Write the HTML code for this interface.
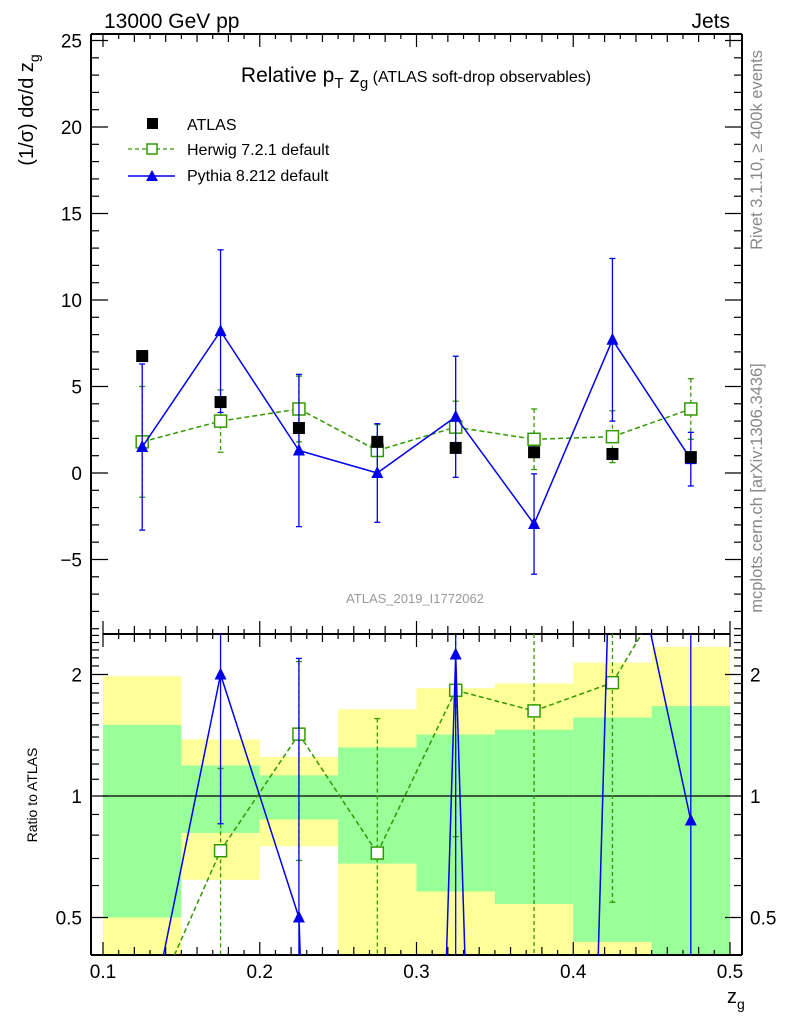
<!DOCTYPE html>
<html><head><meta charset="utf-8"><style>
html,body{margin:0;padding:0;background:#fff;overflow:hidden;width:786px;height:1024px}
svg{font-family:"Liberation Sans",sans-serif;display:block}
</style></head><body>
<svg id="c" width="786" height="1024" xmlns="http://www.w3.org/2000/svg">
<g id="bands"></g>
<g id="axes"></g>
<g id="series"></g>
<text x="104" y="28" font-size="21">13000 GeV pp</text>
<text x="730" y="28" font-size="21" text-anchor="end">Jets</text>
<text x="416" y="82" font-size="21" text-anchor="middle">Relative p<tspan font-size="15" dy="6">T</tspan><tspan dy="-6"> z</tspan><tspan font-size="15" dy="6">g</tspan><tspan dy="-6" font-size="16"> (ATLAS soft-drop observables)</tspan></text>
<g>
<rect x="147" y="118" width="11" height="11" fill="#000"/>
<text x="187" y="130" font-size="16">ATLAS</text>
<line x1="128" y1="149" x2="175" y2="149" stroke="#339900" stroke-dasharray="4,3" stroke-width="1.2"/>
<rect x="147" y="144" width="10" height="10" fill="#fff" stroke="#339900" stroke-width="1.5"/>
<text x="187" y="155" font-size="16">Herwig 7.2.1 default</text>
<line x1="128" y1="176" x2="175" y2="176" stroke="#0000ee" stroke-width="1.5"/>
<polygon points="146,181 158,181 152,170" fill="#0000ee"/>
<text x="187" y="181" font-size="16">Pythia 8.212 default</text>
</g>
<text transform="translate(33,110) rotate(-90)" font-size="20" text-anchor="middle">(1/σ) dσ/d z<tspan font-size="14" dy="6">g</tspan></text>
<text transform="translate(37,795) rotate(-90)" font-size="14" text-anchor="middle">Ratio to ATLAS</text>
<text x="727" y="1003" font-size="20">z<tspan font-size="14" dy="6">g</tspan></text>
<text x="415" y="603" font-size="13" fill="#999" text-anchor="middle">ATLAS_2019_I1772062</text>
<text transform="translate(762,150) rotate(-90)" font-size="16.5" fill="#888" text-anchor="middle">Rivet 3.1.10, ≥ 400k events</text>
<text transform="translate(762,488) rotate(-90)" font-size="16.5" fill="#888" text-anchor="middle">mcplots.cern.ch [arXiv:1306.3436]</text>
</svg>
<script>
const binEdges=[0.1,0.15,0.2,0.25,0.3,0.35,0.4,0.45,0.5];
const xCenters=[0.125,0.175,0.225,0.275,0.325,0.375,0.425,0.475];
const atlasVals=[6.76,4.1,2.6,1.8,1.45,1.2,1.1,0.92];
const atlasStatRel=[0.50,0.19,0.125,0.32,0.42,0.46,0.565,0.67];
const atlasTotRel=[0.98,0.38,0.25,0.64,0.85,0.90,1.14,1.34];
const herwigVals=[1.8,3.0,3.7,1.3,2.65,1.95,2.1,3.7];
const herwigErr=[3.2,1.8,1.9,1.5,1.5,1.75,1.5,1.75];
const pythiaVals=[1.5,8.2,1.3,0.0,3.25,-2.95,7.7,0.8];
const pythiaErr=[4.8,4.7,4.4,2.85,3.5,2.9,4.7,1.55];
const mainYTicks=[-5,0,5,10,15,20,25];
const ratioYTicks=[0.5,1,2];
const xTicks=[0.1,0.2,0.3,0.4,0.5];

const NS="http://www.w3.org/2000/svg";
function mk(p,t,a){const e=document.createElementNS(NS,t);for(const k in a)e.setAttribute(k,a[k]);p.appendChild(e);return e;}
const X=v=>103+(v-0.1)*1567.5;
const Y=v=>473-v*17.3;
const RT=634,RB=955,MT=34;
const R=v=>796-Math.log2(Math.max(v,1e-6))*121.5;
const axes=document.getElementById('axes'),bands=document.getElementById('bands'),ser=document.getElementById('series');

for(let i=0;i<8;i++){
  const x0=X(binEdges[i]),x1=X(binEdges[i+1]);
  const band=(rel,col,nm)=>{let t=Math.max(R(1+rel),RT),b=(1-rel)>0?Math.min(R(1-rel),RB):RB;
    const r=mk(bands,'rect',{x:x0,y:t,width:x1-x0,height:b-t,fill:col});
    
    };
  band(atlasTotRel[i],'#ffff99','total-band-'+i);
  band(atlasStatRel[i],'#99ff99','stat-band-'+i);
}
mk(axes,'line',{x1:103,x2:730,y1:R(1),y2:R(1),stroke:'#000','stroke-width':1.2});

const st={stroke:'#000','stroke-width':2,fill:'none'};
mk(axes,'line',Object.assign({x1:91,x2:742,y1:34,y2:34},st));
mk(axes,'line',Object.assign({x1:91,x2:91,y1:34,y2:RB},st));
mk(axes,'line',Object.assign({x1:742,x2:742,y1:34,y2:RB},st));
mk(axes,'line',Object.assign({x1:103,x2:730,y1:RT,y2:RT},st));
mk(axes,'line',Object.assign({x1:91,x2:742,y1:RB,y2:RB},st));
for(let k=0;k<=40;k++){const v=0.1+k*0.01,x=X(v);const L=k%10==0?13:(k%2==0?8:5);
  [[34,1],[RT,-1],[RT,1],[RB,-1]].forEach(([y,d])=>mk(axes,'line',{x1:x,x2:x,y1:y,y2:y+d*L,stroke:'#000','stroke-width':1.2}));}
xTicks.forEach(v=>{const t=mk(axes,'text',{x:X(v),y:978,'font-size':19,'text-anchor':'middle'});t.textContent=v.toFixed(1);
  
  });
for(let v=-9;v<=25;v++){const y=Y(v);if(y<34||y>RT)continue;const L=v%5==0?17:8;
  mk(axes,'line',{x1:91,x2:91+L,y1:y,y2:y,stroke:'#000','stroke-width':1.2});
  mk(axes,'line',{x1:742,x2:742-L,y1:y,y2:y,stroke:'#000','stroke-width':1.2});}
mainYTicks.forEach(v=>{const t=mk(axes,'text',{x:82,y:Y(v)+7,'font-size':19,'text-anchor':'end'});t.textContent=v<0?'−'+(-v):v;
  
  });
for(let k=4;k<=25;k++){const v=k/10,y=R(v);if(y<RT||y>RB)continue;const L=(v==0.5||v==1||v==2)?17:8;
  mk(axes,'line',{x1:91,x2:91+L,y1:y,y2:y,stroke:'#000','stroke-width':1.2});
  mk(axes,'line',{x1:742,x2:742-L,y1:y,y2:y,stroke:'#000','stroke-width':1.2});}
ratioYTicks.forEach(v=>{[[82,'end'],[750,'start']].forEach(([x,a])=>{const t=mk(axes,'text',{x:x,y:R(v)+7,'font-size':19,'text-anchor':a});t.textContent=v;
  
  });});

// clip a segment to y range [t,b]
function clipSeg(p,q,t,b){
  let [x1,y1]=p,[x2,y2]=q;
  if((y1<t&&y2<t)||(y1>b&&y2>b))return null;
  const at=y=>x1+(x2-x1)*(y-y1)/(y2-y1);
  let a=[x1,y1],c=[x2,y2];
  if(y1<t)a=[at(t),t]; if(y1>b)a=[at(b),b];
  if(y2<t)c=[at(t),t]; if(y2>b)c=[at(b),b];
  return [a,c];
}
const clampY=(y,t,b)=>Math.min(Math.max(y,t),b);

function series(g,yf,vals,errs,col,dash,marker,name,lo0,hi0,t,b){
  const pts=xCenters.map((x,i)=>[X(x),yf(vals[i])]);
  let d='';
  for(let i=0;i<pts.length-1;i++){const s=clipSeg(pts[i],pts[i+1],t,b);if(s)d+=`M${s[0][0].toFixed(2)},${s[0][1].toFixed(2)}L${s[1][0].toFixed(2)},${s[1][1].toFixed(2)}`;}
  const l=mk(g,'path',{d:d,fill:'none',stroke:col,'stroke-width':1.5,'stroke-linejoin':'round'});
  if(dash)l.setAttribute('stroke-dasharray','5,3');
  
  
  xCenters.forEach((x,i)=>{if(vals[i]<=lo0||vals[i]>=hi0)return;
    const px=X(x);const hiR=yf(vals[i]+errs[i]),loR=yf(vals[i]-errs[i]);
    const hi=clampY(hiR,t,b),lo=clampY(loR,t,b);
    const e=mk(g,'line',{x1:px,x2:px,y1:hi,y2:lo,stroke:col,'stroke-width':1.3});if(dash)e.setAttribute('stroke-dasharray','4,3');
    
    
    [hiR,loR].forEach(y=>{if(y>t&&y<b)mk(g,'line',{x1:px-3,x2:px+3,y1:y,y2:y,stroke:col,'stroke-width':1.3});});
    const py=yf(vals[i]);let m;
    if(marker=='sq')m=mk(g,'rect',{x:px-6,y:py-6,width:12,height:12,fill:'#fff',stroke:col,'stroke-width':1.5});
    else m=mk(g,'polygon',{points:`${px-6},${py+5} ${px+6},${py+5} ${px},${py-7}`,fill:col});
    
    });
}
const gm=mk(ser,'g',{}),gr=mk(ser,'g',{});
series(gm,Y,herwigVals,herwigErr,'#339900',true,'sq','herwig',-1e9,1e9,MT,RT);
series(gm,Y,pythiaVals,pythiaErr,'#0000ee',false,'tri','pythia',-1e9,1e9,MT,RT);
xCenters.forEach((x,i)=>{const r=mk(gm,'rect',{x:X(x)-6,y:Y(atlasVals[i])-6,width:12,height:12,fill:'#000'});
  
  });
series(gr,R,herwigVals.map((v,i)=>v/atlasVals[i]),herwigErr.map((v,i)=>v/atlasVals[i]),'#339900',true,'sq','herwig-ratio',0.4,2.55,RT,RB);
series(gr,R,pythiaVals.map((v,i)=>v/atlasVals[i]),pythiaErr.map((v,i)=>v/atlasVals[i]),'#0000ee',false,'tri','pythia-ratio',0.4,2.55,RT,RB);
</script>
</body></html>
